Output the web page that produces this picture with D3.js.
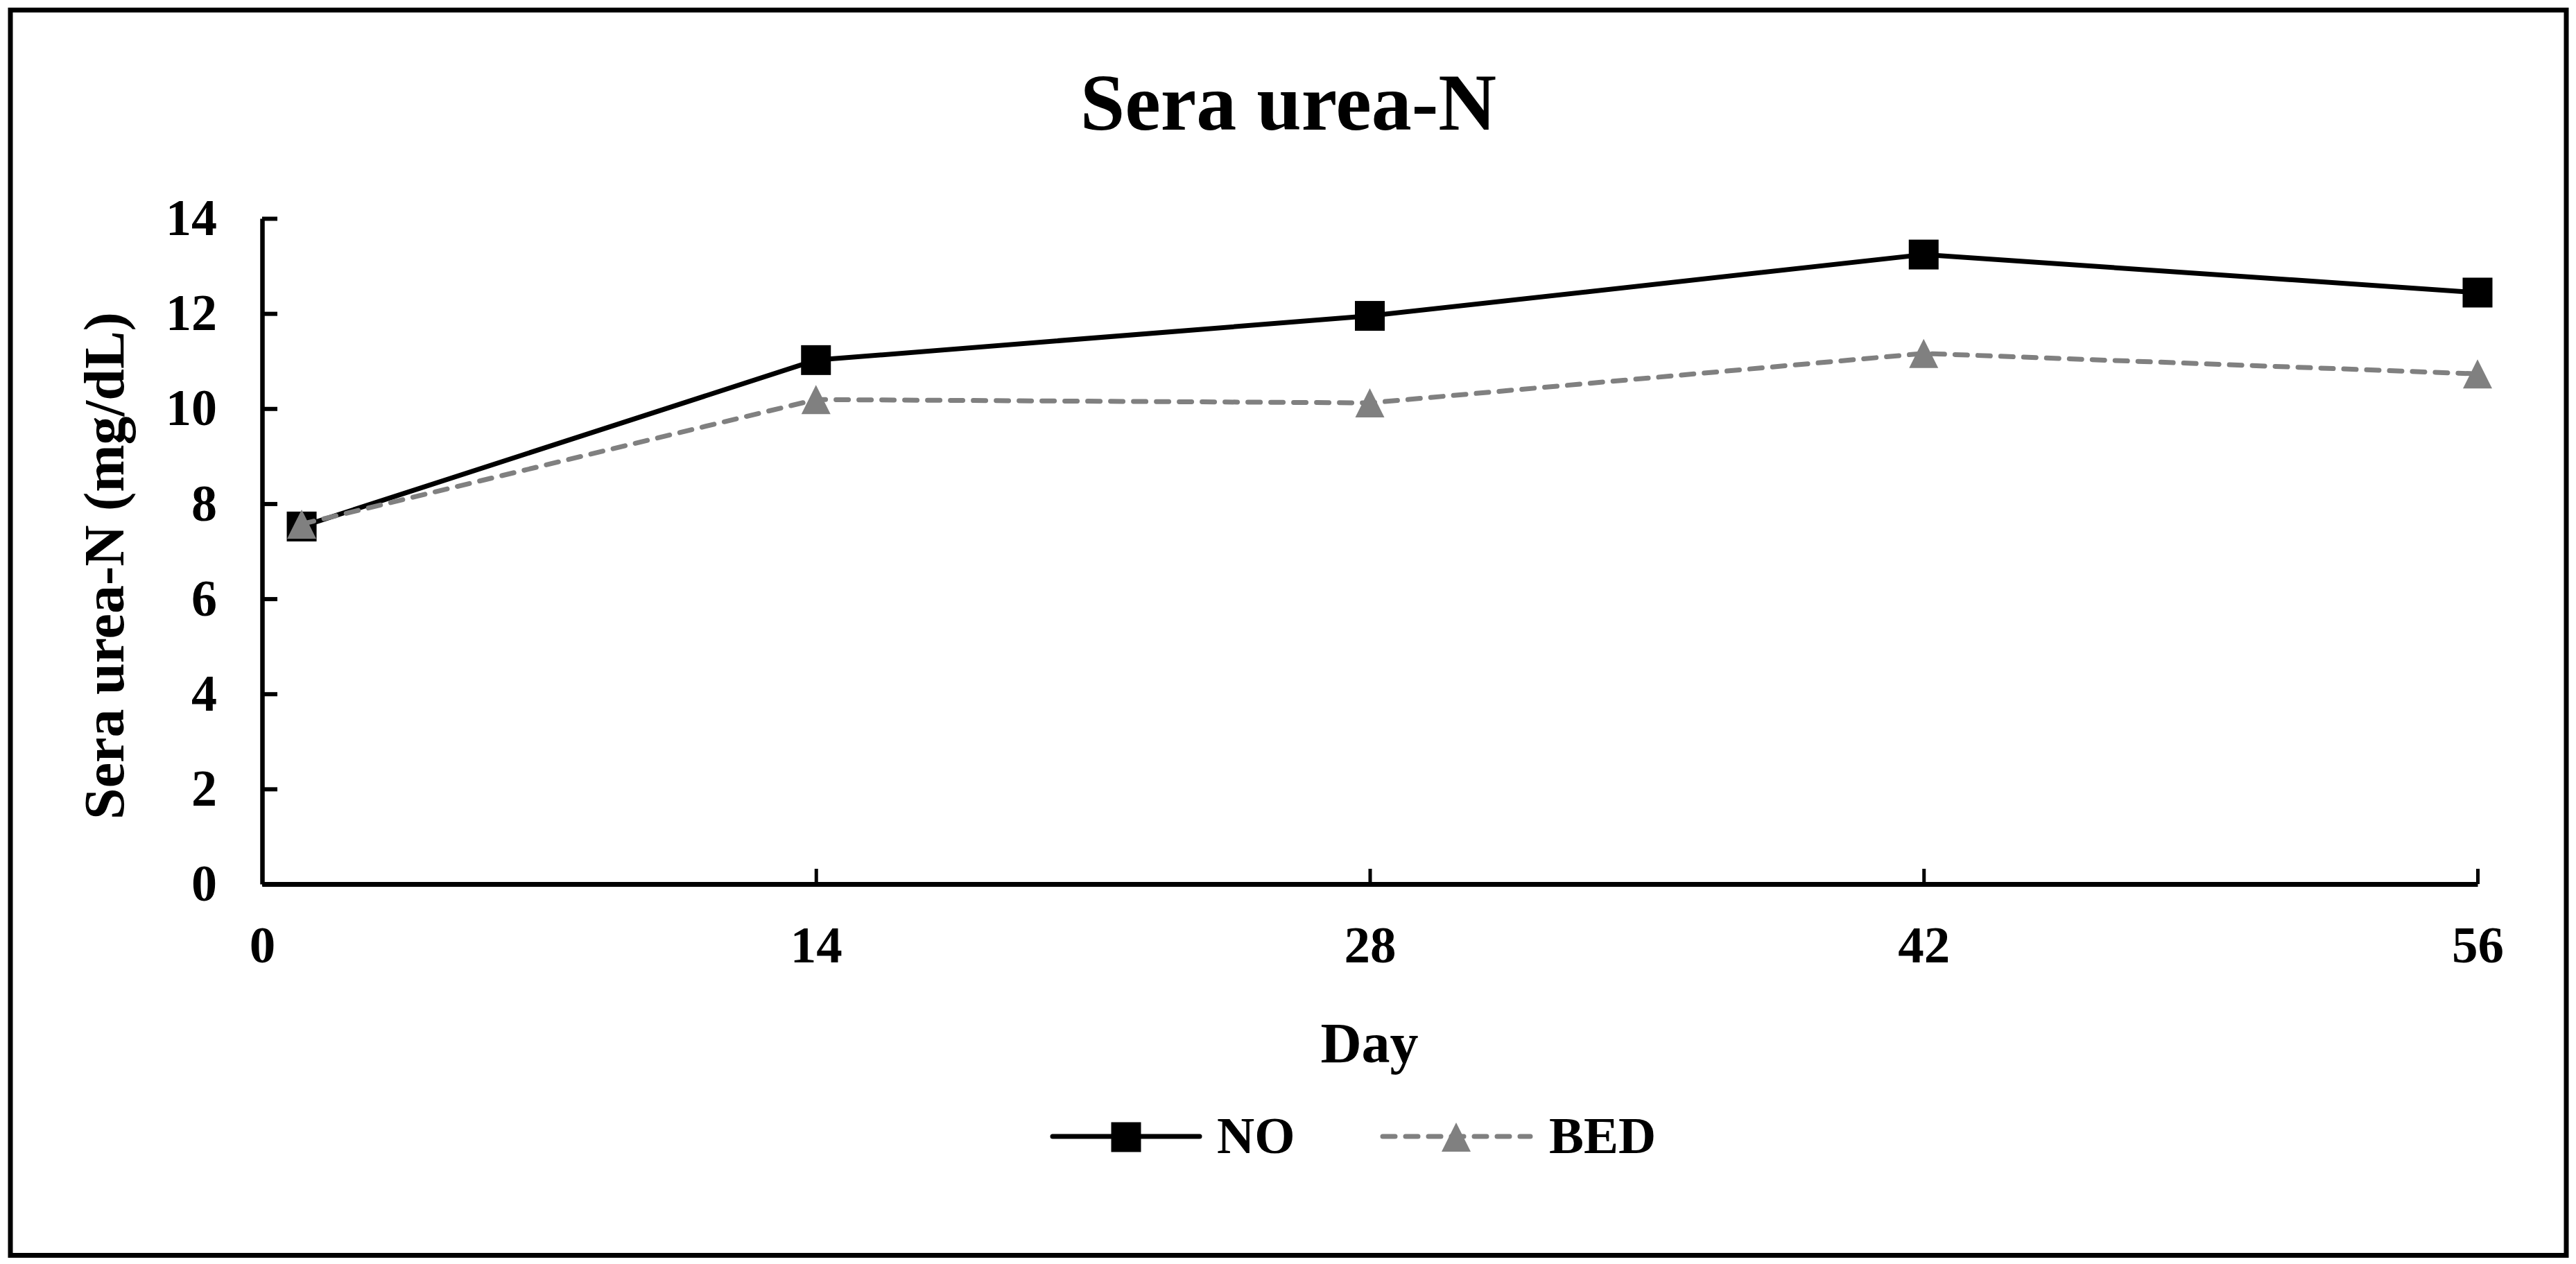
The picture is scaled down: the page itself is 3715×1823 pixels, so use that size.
<!DOCTYPE html>
<html>
<head>
<meta charset="utf-8">
<script src="https://cdn.jsdelivr.net/npm/d3@7"></script>
<style>
  html, body { margin: 0; padding: 0; background: #fff; }
  svg { display: block; }
  text { font-family: "Liberation Serif", "Times New Roman", serif; font-weight: bold; fill: #000; }
</style>
</head>
<body>
<script>
// ---- data ----
const days = [1, 14, 28, 42, 56];
const noValues = [7.52, 11.02, 11.95, 13.24, 12.44];
const bedValues = [7.57, 10.19, 10.12, 11.16, 10.73];
const seriesNames = ["NO", "BED"];
const xTickValues = [0, 14, 28, 42, 56];
const yTickValues = [0, 2, 4, 6, 8, 10, 12, 14];
const chartTitle = "Sera urea-N";
const xTitle = "Day";
const yTitle = "Sera urea-N (mg/dL)";

const W = 3715, H = 1823;
const svg = d3.select("body").append("svg").attr("width", W).attr("height", H);

// outer frame
svg.append("rect").attr("x", 15).attr("y", 14.5).attr("width", 3686).attr("height", 1796)
  .attr("fill", "#fff").attr("stroke", "#000").attr("stroke-width", 7);

const x = d3.scaleLinear().domain([0, 56]).range([378, 3573]);
const y = d3.scaleLinear().domain([0, 14]).range([1275, 315]);

// title
svg.append("text").attr("x", 1858).attr("y", 187).attr("text-anchor", "middle")
  .style("font-size", "116px").text(chartTitle);

// y axis
const yAxis = svg.append("g").attr("transform", `translate(${x(0)},0)`)
  .call(d3.axisLeft(y).tickValues(yTickValues).tickSize(-22).tickSizeOuter(0).tickFormat(d3.format("d")));
yAxis.select(".domain").attr("stroke", "#000").attr("stroke-width", 6.5);
yAxis.selectAll(".tick line").attr("stroke", "#000").attr("stroke-width", 6);
yAxis.selectAll(".tick text").attr("x", -65).attr("dy", "0.32em").attr("text-anchor", "end")
  .style("font-size", "74px").style("font-family", "Liberation Serif").style("font-weight", "bold");

// x axis
const xAxis = svg.append("g").attr("transform", `translate(0,${y(0)})`)
  .call(d3.axisBottom(x).tickValues(xTickValues).tickSize(-22).tickSizeOuter(0).tickFormat(d3.format("d")));
xAxis.select(".domain").attr("stroke", "#000").attr("stroke-width", 7);
xAxis.selectAll(".tick line").attr("stroke", "#000").attr("stroke-width", 5);
xAxis.selectAll(".tick text").attr("y", 113).attr("dy", 0).attr("text-anchor", "middle")
  .style("font-size", "75px").style("font-family", "Liberation Serif").style("font-weight", "bold");

// axis titles
svg.append("text").attr("x", 1975).attr("y", 1532).attr("text-anchor", "middle")
  .style("font-size", "82px").text(xTitle);
svg.append("text").attr("transform", "translate(178,816) rotate(-90)").attr("text-anchor", "middle")
  .style("font-size", "82px").text(yTitle);

const line = d3.line().x(d => x(d[0])).y(d => y(d[1]));
const noData = days.map((d, i) => [d, noValues[i]]);
const bedData = days.map((d, i) => [d, bedValues[i]]);

const MS = 43; // marker size
function triPath(cx, cy, s) {
  const p = d3.path();
  p.moveTo(cx, cy - s / 2);
  p.lineTo(cx + s / 2, cy + s / 2);
  p.lineTo(cx - s / 2, cy + s / 2);
  p.closePath();
  return p.toString();
}

// NO series
svg.append("path").datum(noData).attr("d", line).attr("fill", "none")
  .attr("stroke", "#000").attr("stroke-width", 7).attr("stroke-linejoin", "round");
svg.selectAll("rect.no").data(noData).enter().append("rect").attr("class", "no")
  .attr("x", d => x(d[0]) - MS / 2).attr("y", d => y(d[1]) - MS / 2)
  .attr("width", MS).attr("height", MS).attr("fill", "#000");

// BED series
svg.append("path").datum(bedData).attr("d", line).attr("fill", "none")
  .attr("stroke", "#808080").attr("stroke-width", 7).attr("stroke-dasharray", "18,15")
  .attr("stroke-linecap", "round");
svg.selectAll("path.bed").data(bedData).enter().append("path").attr("class", "bed")
  .attr("d", d => triPath(x(d[0]), y(d[1]), 42)).attr("fill", "#808080");

// legend
const lg = svg.append("g");
lg.append("line").attr("x1", 1518).attr("x2", 1730).attr("y1", 1639).attr("y2", 1639)
  .attr("stroke", "#000").attr("stroke-width", 7).attr("stroke-linecap", "round");
lg.append("rect").attr("x", 1624 - MS / 2).attr("y", 1640 - MS / 2).attr("width", MS).attr("height", MS).attr("fill", "#000");
lg.append("text").attr("x", 1755).attr("y", 1663).style("font-size", "75px").text(seriesNames[0]);
lg.append("line").attr("x1", 1994).attr("x2", 2207).attr("y1", 1639).attr("y2", 1639)
  .attr("stroke", "#808080").attr("stroke-width", 7).attr("stroke-dasharray", "18,15").attr("stroke-linecap", "round");
lg.append("path").attr("d", triPath(2100, 1640, 42)).attr("fill", "#808080");
lg.append("text").attr("x", 2234).attr("y", 1663).style("font-size", "75px").text(seriesNames[1]);
</script>
</body>
</html>
